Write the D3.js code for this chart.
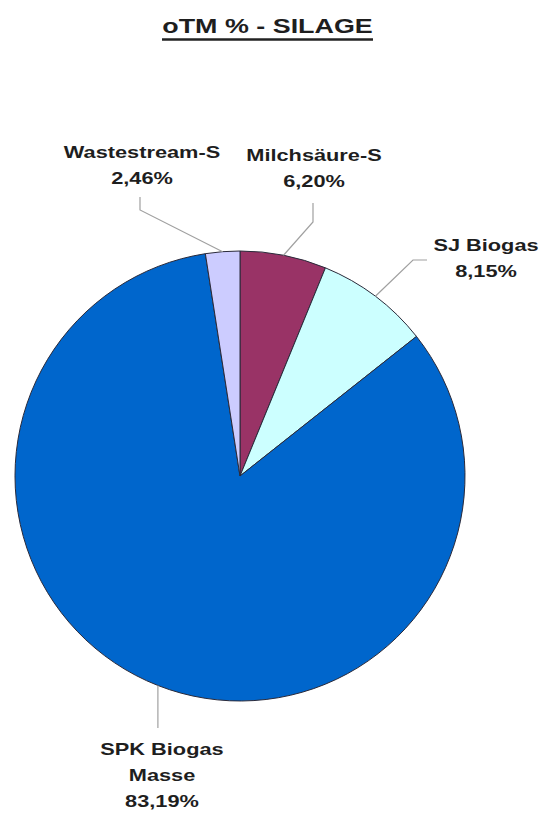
<!DOCTYPE html>
<html>
<head>
<meta charset="utf-8">
<script src="https://cdn.jsdelivr.net/npm/d3@7"></script>
<style>
  html, body { margin: 0; padding: 0; background: #fff; }
  svg { display: block; }
  text { font-family: "Liberation Sans", Arial, sans-serif; font-weight: bold; fill: #1e1e1e; }
</style>
</head>
<body>
<svg id="chart" width="541" height="814"></svg>
<script>
// Organic dry matter share per silage component (percent), clockwise from 12 o'clock
const categories = ["Milchsäure-S", "SJ Biogas", "SPK Biogas Masse", "Wastestream-S"];
const values = [6.20, 8.15, 83.19, 2.46];
const valueLabels = ["6,20%", "8,15%", "83,19%", "2,46%"];
const labelLines = [["Milchsäure-S"], ["SJ Biogas"], ["SPK Biogas", "Masse"], ["Wastestream-S"]];
const colors = ["#993366", "#ccffff", "#0066cc", "#ccccff"];
const title = "oTM % - SILAGE";

const svg = d3.select("#chart");
const cx = 240, cy = 476, R = 225;
const stretch = 1.28;   // labels use a widened face

// Title with underline
const tg = svg.append("g").attr("transform", `translate(267.5,33) scale(${stretch},1)`);
tg.append("text").attr("text-anchor", "middle").attr("font-size", 21).text(title);
svg.append("line").attr("x1", 162).attr("x2", 373).attr("y1", 39.5).attr("y2", 39.5)
  .attr("stroke", "#222").attr("stroke-width", 2.5);

const pie = d3.pie().sort(null).value(d => d)(values);
const arc = d3.arc().innerRadius(0).outerRadius(R);

const g = svg.append("g").attr("transform", `translate(${cx},${cy})`);
g.selectAll("path.slice").data(pie).join("path")
  .attr("class", "slice")
  .attr("d", arc)
  .attr("fill", (d, i) => colors[i])
  .attr("stroke", "#2a2a3a")
  .attr("stroke-width", 1)
  .attr("stroke-linejoin", "round");

// Label placement: text centre x, first baseline y, and the leader's bend/end points
const layout = [
  { x: 314, y: 161, lead: [[313, 222], [313, 203]] },
  { x: 486, y: 251, lead: [[413, 260], [427, 260]] },
  { x: 162, y: 755, lead: [[null, 728]] },
  { x: 142, y: 158, lead: [[140, 210], [140, 197]] }
];
const lineGap = 26;

pie.forEach((d, i) => {
  const a = (d.startAngle + d.endAngle) / 2;
  const px = cx + R * Math.sin(a), py = cy - R * Math.cos(a);
  const L = layout[i];
  const pts = [[px, py]].concat(L.lead.map(p => [p[0] === null ? px : p[0], p[1]]));
  svg.append("path")
    .attr("d", d3.line()(pts))
    .attr("fill", "none").attr("stroke", "#a0a0a0").attr("stroke-width", 1.2);

  const lines = labelLines[i].concat([valueLabels[i]]);
  lines.forEach((t, k) => {
    svg.append("g")
      .attr("transform", `translate(${L.x},${L.y + k * lineGap}) scale(${stretch},1)`)
      .append("text").attr("text-anchor", "middle").attr("font-size", 17).text(t);
  });
});
</script>
</body>
</html>
